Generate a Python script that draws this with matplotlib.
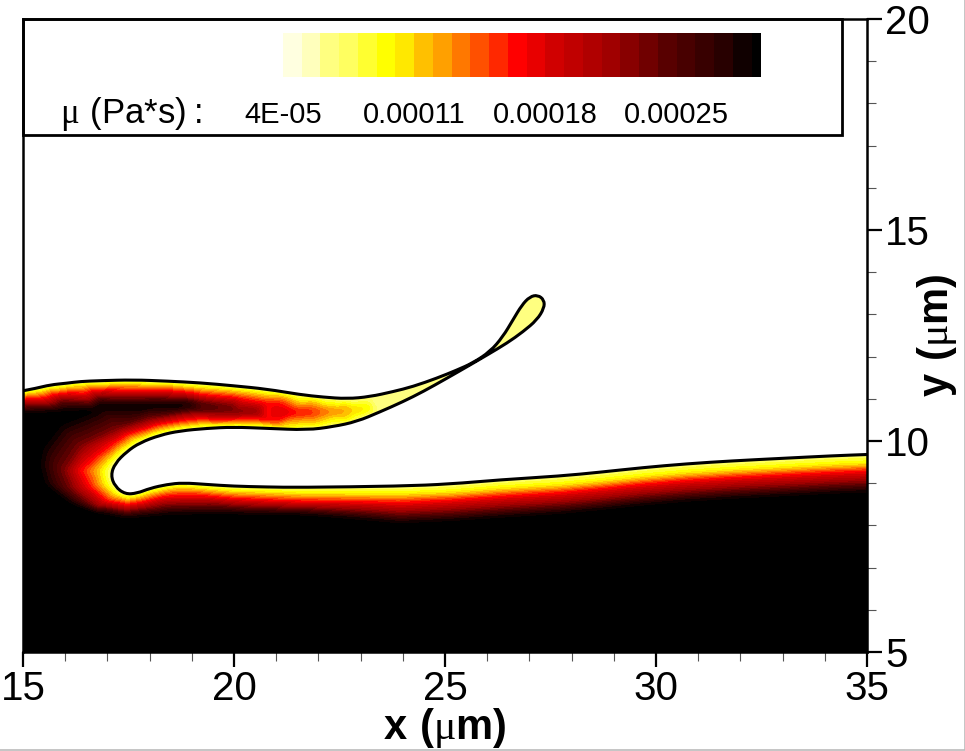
import numpy as np
import matplotlib
matplotlib.use("Agg")
import matplotlib.pyplot as plt
import matplotlib.tri as mtri
from matplotlib.colors import ListedColormap, BoundaryNorm
from matplotlib.lines import Line2D
from matplotlib.patches import Rectangle, PathPatch
from matplotlib.path import Path

plt.rcParams['font.family'] = ['Liberation Sans', 'DejaVu Sans']
plt.rcParams['mathtext.fontset'] = 'custom'
plt.rcParams['mathtext.rm'] = 'Liberation Serif'
plt.rcParams['mathtext.bf'] = 'Liberation Sans:bold'
plt.rcParams['mathtext.sf'] = 'Liberation Sans'

# gas/liquid interface, from the left wall round the sheet and cavity to the right wall
iface_x = [15.00, 15.32, 15.64, 16.04, 16.35, 16.82, 17.61, 18.41, 19.19, 19.98, 20.78, 21.56,
           22.11, 22.68, 23.22, 23.77, 24.24, 24.81, 25.28, 25.66, 26.07, 26.37, 26.61, 26.82,
           27.01, 27.20, 27.35, 27.35, 27.18, 26.85, 26.47, 26.00, 25.59, 25.05, 24.48, 24.00,
           23.46, 22.91, 22.35, 21.73, 20.78, 19.98, 19.36, 18.72, 18.25, 17.77, 17.46, 17.18,
           17.08, 17.18, 17.42, 17.70, 18.01, 18.41, 18.79, 19.36, 19.98, 20.78, 21.56, 23.93,
           25.12, 26.30, 27.73, 28.67, 29.69, 30.73, 31.82, 33.01, 34.19, 35.00]
iface_y = [11.19, 11.25, 11.33, 11.37, 11.41, 11.43, 11.45, 11.42, 11.38, 11.31, 11.23, 11.10,
           11.04, 11.00, 11.05, 11.17, 11.29, 11.49, 11.68, 11.85, 12.12, 12.47, 12.87, 13.22,
           13.42, 13.46, 13.34, 13.15, 12.87, 12.59, 12.32, 12.04, 11.80, 11.49, 11.17, 10.93,
           10.69, 10.46, 10.34, 10.26, 10.30, 10.33, 10.30, 10.24, 10.14, 9.96, 9.75, 9.47,
           9.19, 8.92, 8.74, 8.76, 8.88, 8.97, 9.01, 8.97, 8.93, 8.91, 8.90, 8.93,
           8.98, 9.08, 9.17, 9.26, 9.37, 9.46, 9.53, 9.59, 9.65, 9.68]
iface_mu = 6.5e-5

# viscosity isolines
yellow_x = [15.00, 15.90, 16.82, 18.00, 19.19, 20.20, 21.09, 21.88, 22.67, 23.14, 22.67, 21.88, 21.09,
            19.98, 19.19, 18.01, 17.46, 17.06, 16.82, 16.91, 17.18, 17.46, 17.77, 18.17, 18.72,
            19.35, 19.98, 20.78, 21.56, 23.93, 25.12, 26.30, 27.73, 28.67, 29.69, 30.73, 31.82,
            33.01, 34.19, 35.00]
yellow_y = [11.11, 11.24, 11.33, 11.33, 11.25, 11.18, 11.09, 10.96, 10.88, 10.77, 10.54, 10.40, 10.36,
            10.42, 10.40, 10.18, 9.90, 9.59, 9.31, 8.96, 8.72, 8.62, 8.68, 8.80, 8.90,
            8.85, 8.79, 8.77, 8.74, 8.72, 8.76, 8.85, 8.93, 9.02, 9.13, 9.22, 9.29,
            9.35, 9.41, 9.44]
yellow_mu = 1.05e-4

red_x = [15.00, 15.90, 16.82, 18.00, 19.19, 20.20, 20.77, 21.09, 21.72, 21.09, 20.77, 19.98, 19.19,
         18.01, 17.22, 16.70, 16.35, 16.55, 16.98, 17.46, 17.85, 18.40, 19.19, 19.98, 20.78,
         21.56, 23.93, 25.12, 26.30, 27.73, 28.67, 29.69, 30.73, 31.82, 33.01, 34.19, 35.00]
red_y = [10.97, 11.10, 11.19, 11.17, 11.09, 10.98, 10.89, 10.88, 10.68, 10.50, 10.50, 10.52, 10.54,
         10.34, 10.02, 9.63, 9.31, 8.92, 8.56, 8.48, 8.54, 8.68, 8.70, 8.63, 8.59,
         8.56, 8.53, 8.59, 8.68, 8.77, 8.86, 8.97, 9.06, 9.13, 9.19, 9.25, 9.28]
red_mu = 1.65e-4

dark_x = [15.00, 15.90, 16.82, 18.00, 19.19, 20.00, 20.46, 20.00, 19.19, 18.01, 17.22, 16.35, 15.96,
          16.15, 16.75, 17.46, 18.01, 18.80, 19.98, 20.78, 21.56, 23.93, 25.12, 26.30, 27.73,
          28.67, 29.69, 30.73, 31.82, 33.01, 34.19, 35.00]
dark_y = [10.83, 10.96, 11.05, 11.03, 10.95, 10.84, 10.69, 10.67, 10.69, 10.54, 10.30, 9.90, 9.31,
          8.84, 8.40, 8.33, 8.40, 8.48, 8.45, 8.42, 8.40, 8.27, 8.32, 8.40, 8.49,
          8.58, 8.69, 8.78, 8.85, 8.91, 8.97, 9.00]
dark_mu = 2.3e-4

black_x = [15.00, 15.90, 16.67, 15.88, 15.44, 15.36, 15.48, 16.03, 16.82, 17.46, 18.40, 19.98, 20.78,
           21.56, 23.93, 25.12, 26.30, 27.73, 28.67, 29.69, 30.73, 31.82, 33.01, 34.19, 35.00,
           15.00, 25.00, 35.00, 15.00, 16.82, 18.01, 18.88]
black_y = [10.66, 10.70, 10.73, 10.42, 9.86, 9.47, 8.99, 8.56, 8.29, 8.17, 8.25, 8.27, 8.26,
           8.25, 8.05, 8.10, 8.18, 8.27, 8.36, 8.47, 8.56, 8.63, 8.69, 8.75, 8.78,
           5.00, 5.00, 5.00, 8.00, 10.85, 10.85, 10.85]
black_mu = 2.95e-4

# values along the middle of the tongue
ridge_x = [19.19, 20.00, 21.09, 21.40, 22.05, 22.40, 22.75, 24.00]
ridge_y = [10.80, 10.72, 10.68, 10.68, 10.69, 10.70, 10.73, 11.05]
ridge_mu = [2.6e-4, 2.3e-4, 1.8e-4, 1.72e-4, 1.48e-4, 1.32e-4, 1.18e-4, 7.0e-5]

band_colors = ['#FFFFE0', '#FFFFBC', '#FFFF80', '#FFFF60', '#FFFF30', '#FFFF00', '#FFE800',
               '#FFC000', '#FFA000', '#FF7800', '#FF5000', '#FF2800', '#FF0000', '#E80000',
               '#D00000', '#C00000', '#B00000', '#A00000', '#880000', '#700000', '#580000',
               '#480000', '#380000', '#280000', '#100000', '#000000']
band_edges = [4e-5, 5e-5, 6e-5, 7e-5, 8e-5, 9e-5, 1e-4, 1.1e-4, 1.2e-4, 1.3e-4, 1.4e-4, 1.5e-4,
              1.6e-4, 1.7e-4, 1.8e-4, 1.9e-4, 2e-4, 2.1e-4, 2.2e-4, 2.3e-4, 2.4e-4, 2.5e-4,
              2.6e-4, 2.7e-4, 2.8e-4, 2.9e-4, 2.95e-4]
legend_ticks = [4e-5, 1.1e-4, 1.8e-4, 2.5e-4]
legend_labels = ['4E-05', '0.00011', '0.00018', '0.00025']

W, H = 965, 751
L, R, T, B = 23, 867, 19, 652


def smooth_path(xs, ys, closing=()):
    """Quadratic curve through the read points, optionally closed over extra corners."""
    verts = [(xs[0], ys[0])]
    codes = [Path.MOVETO]
    for i in range(1, len(xs) - 1):
        verts += [(xs[i], ys[i]), ((xs[i] + xs[i + 1]) / 2, (ys[i] + ys[i + 1]) / 2)]
        codes += [Path.CURVE3, Path.CURVE3]
    verts.append((xs[-1], ys[-1]))
    codes.append(Path.LINETO)
    for c in closing:
        verts.append(c)
        codes.append(Path.LINETO)
    if closing:
        verts.append(verts[0])
        codes.append(Path.CLOSEPOLY)
    return Path(verts, codes)


def box_blur(z, n):
    """Soften the facets of the linear interpolation, separately along each axis."""
    kernel = np.ones(n) / n
    pad = n // 2
    z = np.pad(z, pad, mode='edge')
    z = np.apply_along_axis(lambda r: np.convolve(r, kernel, mode='same'), 0, z)
    z = np.apply_along_axis(lambda r: np.convolve(r, kernel, mode='same'), 1, z)
    return z[pad:-pad, pad:-pad]


fig = plt.figure(figsize=(W / 100, H / 100), dpi=100)
ax = fig.add_axes([L / W, 1 - B / H, (R - L) / W, (B - T) / H])

cmap = ListedColormap(band_colors)
norm = BoundaryNorm(band_edges, cmap.N)

pts_x = np.concatenate([iface_x, yellow_x, red_x, dark_x, black_x, ridge_x])
pts_y = np.concatenate([iface_y, yellow_y, red_y, dark_y, black_y, ridge_y])
pts_mu = np.concatenate([np.full(len(iface_x), iface_mu), np.full(len(yellow_x), yellow_mu),
                         np.full(len(red_x), red_mu), np.full(len(dark_x), dark_mu),
                         np.full(len(black_x), black_mu), ridge_mu])
tri = mtri.Triangulation(pts_x, pts_y)
grid_x, grid_y = np.meshgrid(np.linspace(15, 35, 1001), np.linspace(5, 14, 451))
grid_mu = mtri.LinearTriInterpolator(tri, pts_mu)(grid_x, grid_y)
grid_mu = box_blur(np.ma.filled(grid_mu, iface_mu), 9)
ax.contourf(grid_x, grid_y, grid_mu, levels=band_edges, cmap=cmap, norm=norm, extend='both')

# everything above the interface is gas, so it stays white
ax.add_patch(PathPatch(smooth_path(iface_x, iface_y, closing=[(35, 20), (15, 20)]),
                       fc='white', ec='none', zorder=2))
ax.add_patch(PathPatch(smooth_path(iface_x, iface_y), fc='none', ec='black', lw=2.2, zorder=3))

ax.add_patch(Rectangle((15, 17.25), 19.4, 2.75, fc='white', ec='black', lw=2.0, zorder=4, clip_on=False))

ax.set_xlim(15, 35)
ax.set_ylim(5, 20)
ax.set_xticks([15, 20, 25, 30, 35])
ax.set_yticks([5, 10, 15, 20])
ax.set_xticks(np.arange(15, 36), minor=True)
ax.set_yticks(np.arange(5, 21), minor=True)
ax.xaxis.tick_bottom()
ax.yaxis.tick_right()
ax.tick_params(which='major', length=11, width=1.6, color='black', labelsize=29, pad=2)
ax.tick_params(which='minor', length=6.5, width=0.8, color='#555555')
for s in ax.spines.values():
    s.set_linewidth(1.8)
    s.set_zorder(5)

# colour bar of the legend
ax_bar = fig.add_axes([283 / W, 1 - 77.3 / H, (761 - 283) / W, 44.6 / H])
ax_bar.pcolormesh(band_edges, [0, 1], np.array(band_edges[:-1])[None, :] + 1e-7, cmap=cmap, norm=norm)
ax_bar.set_yticks([])
ax_bar.set_xticks(legend_ticks)
ax_bar.set_xticklabels(legend_labels, fontsize=21)
ax_bar.tick_params(axis='x', length=0, pad=17)
for s in ax_bar.spines.values():
    s.set_visible(False)

fig.text(60 / W, 1 - 114 / H, r'$\mathrm{\mu}\ \mathsf{(Pa{*}s)}\mathsf{{:}}$', fontsize=25, va='center', ha='left')
fig.text(445 / W, 1 - 728 / H, r'$\mathbf{x\ (}\mathrm{\mu}\mathbf{m)}$', fontsize=30, va='center', ha='center')
fig.text(937 / W, 1 - 335 / H, r'$\mathbf{y\ (}\mathrm{\mu}\mathbf{m)}$', fontsize=30, va='center', ha='center', rotation=90)

# thin grey edge of the screenshot on the right and at the bottom
fig.add_artist(Line2D([0, 1, 1], [0.0007, 0.0007, 1], color='#bbbbbb', lw=1.2))

fig.savefig('out.png', dpi=100)
